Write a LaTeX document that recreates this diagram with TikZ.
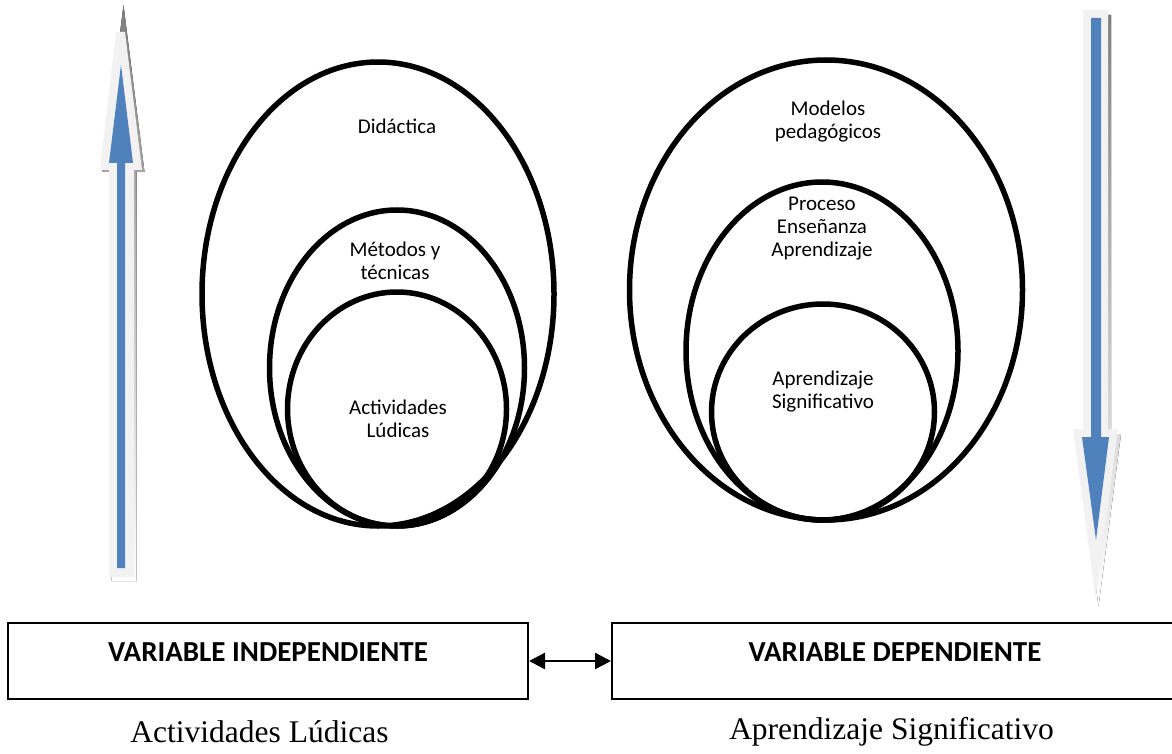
\documentclass[tikz,border=0pt]{standalone}
\usepackage{fontspec}
\setmainfont{Carlito}
\newfontfamily\serifface{Liberation Serif}
\usetikzlibrary{shapes.geometric,arrows.meta}
\definecolor{arrowblue}{RGB}{79,129,189}
\definecolor{glow}{RGB}{242,242,242}
\definecolor{shade}{RGB}{141,155,176}
\tikzset{
  ring/.style={ellipse, draw=black, line width=5.5pt, inner sep=0pt},
  ringtext/.style={align=center, font=\fontsize{21}{23}\selectfont},
  varbox/.style={draw=black, line width=2pt, inner sep=0pt, minimum height=76pt},
  vartext/.style={font=\fontsize{29}{32}\selectfont\bfseries},
  caption/.style={font=\serifface\fontsize{31.5}{34}\selectfont},
}
\begin{document}
\begin{tikzpicture}[x=1pt,y=-1pt]
\clip (0,0) rectangle (1172,754);
\fill[white] (0,0) rectangle (1172,754);

% upward arrow on the left
\fill[shade] (123.5,5) -- (144.5,172) -- (136.5,172) -- (136.5,581) -- (111.5,581) -- (111.5,172) -- (102.5,172) -- cycle;
\fill[glow] (116,32) -- (125,32) -- (142,170) -- (134,170) -- (134,577) -- (109,577) -- (109,170) -- (100,170) -- cycle;
\fill[arrowblue] (121,65) -- (133,163) -- (125,163) -- (125,568) -- (117,568) -- (117,163) -- (109,163) -- cycle;

% downward arrow on the right
\fill[shade] (1086,15) -- (1111,15) -- (1111,434) -- (1121,434) -- (1098.5,606) -- (1076,434) -- (1086,434) -- cycle;
\fill[glow] (1083,10) -- (1108,10) -- (1108,429) -- (1118,429) -- (1095.5,598) -- (1073,429) -- (1083,429) -- cycle;
\fill[arrowblue] (1091,18) -- (1101,18) -- (1101,437) -- (1109,437) -- (1096,540) -- (1082,437) -- (1091,437) -- cycle;

% nested ellipses, left group
\node[ring, minimum width=352pt, minimum height=464pt] (didactica) at (378,294) {};
\node[ring, minimum width=255pt, minimum height=316pt] (metodos) at (397,368) {};
\node[ring, minimum width=219pt, minimum height=234pt] (ludicas) at (397,409) {};
\node[ringtext] (tdidactica) at (397,126) {Didáctica};
\node[ringtext] (tmetodos) at (395,261) {Métodos y\\técnicas};
\node[ringtext] (tludicas) at (398,419) {Actividades\\Lúdicas};

% nested ellipses, right group
\node[ring, minimum width=393pt, minimum height=460pt] (modelos) at (826,290) {};
\node[ring, minimum width=272pt, minimum height=338pt] (proceso) at (822,351) {};
\node[ring, minimum width=223pt, minimum height=216pt] (significativo) at (823,412) {};
\node[ringtext] (tmodelos) at (828,122) {Modelos\\pedagógicos};
\node[ringtext] (tproceso) at (822,229) {Proceso\\Enseñanza\\Aprendizaje};
\node[ringtext] (tsignificativo) at (823,392) {Aprendizaje\\Significativo};

% variable boxes
\node[varbox, minimum width=520pt] (vi) at (268,661) {};
\node[varbox, minimum width=566pt] (vd) at (895,661) {};
\node[vartext] (tvi) at (268,652) {VARIABLE INDEPENDIENTE};
\node[vartext] (tvd) at (895,652) {VARIABLE DEPENDIENTE};
\draw[line width=2.5pt, {Triangle[length=16pt,width=16pt]}-{Triangle[length=16pt,width=16pt]}] (vi.east) -- (vd.west);

% captions under the boxes
\node[caption] (cvi) at (259.5,732) {Actividades Lúdicas};
\node[caption] (cvd) at (891.5,732) {Aprendizaje Significativo};
\end{tikzpicture}
\end{document}
